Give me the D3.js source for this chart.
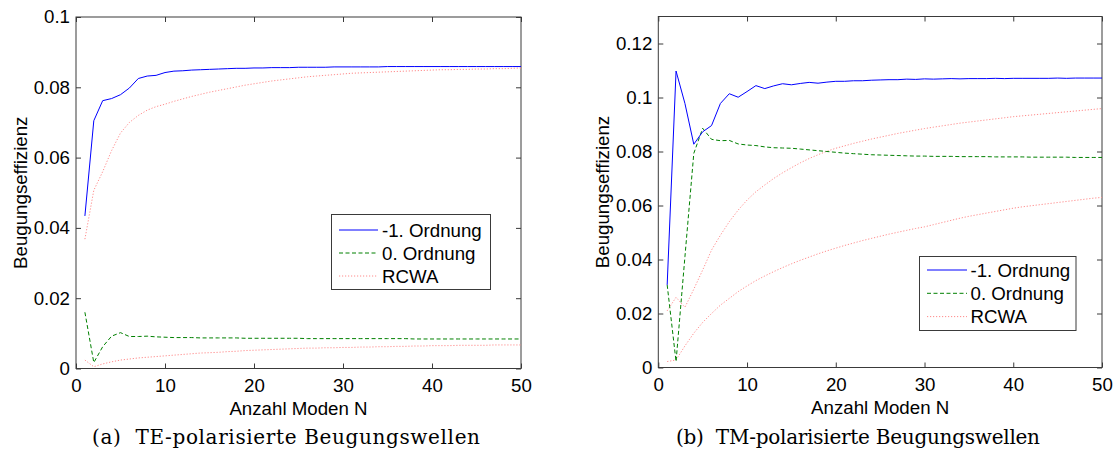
<!DOCTYPE html>
<html>
<head>
<meta charset="utf-8">
<script src="https://cdn.jsdelivr.net/npm/d3@7"></script>
<style>
  html, body { margin: 0; padding: 0; background: #fff; }
  svg { display: block; }
  text { font-family: "Liberation Sans", Arial, sans-serif; fill: #000; }
</style>
</head>
<body>
<svg id="chart" width="1119" height="461"></svg>
<script>
// ---------- Data ----------
const modes = d3.range(1, 51); // N = 1..50
const xTicks = [0, 10, 20, 30, 40, 50];
const yTicksTE = [0, 0.02, 0.04, 0.06, 0.08, 0.1];
const yTickLabelsTE = ["0", "0.02", "0.04", "0.06", "0.08", "0.1"];
const yTicksTM = [0, 0.02, 0.04, 0.06, 0.08, 0.1, 0.12];
const yTickLabelsTM = ["0", "0.02", "0.04", "0.06", "0.08", "0.1", "0.12"];
const legendLabels = ["-1. Ordnung", "0. Ordnung", "RCWA"];
const xLabel = "Anzahl Moden N";
const yLabel = "Beugungseffizienz";
const captions = ["(a)  TE-polarisierte Beugungswellen", "(b)  TM-polarisierte Beugungswellen"];

// TE: -1. Ordnung
const teMinus1 = [0.0434,0.0705,0.0762,0.0768,0.0779,0.0798,0.0825,0.0832,0.0834,0.0842,
  0.0846,0.0847,0.0849,0.0850,0.0851,0.0852,0.0853,0.0854,0.0854,0.0855,
  0.0855,0.0856,0.0856,0.0856,0.0857,0.0857,0.0857,0.0857,0.0858,0.0858,
  0.0858,0.0858,0.0858,0.0858,0.0859,0.0859,0.0859,0.0859,0.0859,0.0859,
  0.0859,0.0859,0.0859,0.0859,0.0859,0.0859,0.0859,0.0859,0.0859,0.0859];
// TE: 0. Ordnung
const teZero = [0.0160,0.0017,0.0062,0.0092,0.0102,0.0091,0.0091,0.0092,0.0090,0.0089,
  0.0088,0.0088,0.0088,0.0087,0.0087,0.0087,0.0087,0.0087,0.0086,0.0086,
  0.0086,0.0086,0.0086,0.0086,0.0086,0.0085,0.0085,0.0085,0.0085,0.0085,
  0.0085,0.0085,0.0085,0.0085,0.0085,0.0085,0.0085,0.0084,0.0084,0.0084,
  0.0084,0.0084,0.0084,0.0084,0.0084,0.0084,0.0084,0.0084,0.0084,0.0084];
// TE: RCWA (-1. order reference)
const teRcwaMinus1 = [0.0368,0.0507,0.0560,0.0620,0.0670,0.0700,0.0720,0.0735,0.0745,0.0752,
  0.0760,0.0767,0.0774,0.0780,0.0786,0.0791,0.0796,0.0801,0.0806,0.0810,
  0.0814,0.0818,0.0821,0.0824,0.0827,0.0830,0.0832,0.0834,0.0836,0.0838,
  0.0840,0.0841,0.0842,0.0843,0.0844,0.0845,0.0846,0.0847,0.0848,0.0849,
  0.0850,0.0850,0.0851,0.0851,0.0852,0.0852,0.0853,0.0853,0.0854,0.0855];
// TE: RCWA (0. order reference)
const teRcwaZero = [0.0024,0.0005,0.0013,0.0019,0.0024,0.0027,0.0030,0.0032,0.0034,0.0036,
  0.0038,0.0040,0.0042,0.0044,0.0045,0.0046,0.0048,0.0049,0.0051,0.0052,
  0.0053,0.0054,0.0055,0.0056,0.0057,0.0058,0.0058,0.0059,0.0059,0.0060,
  0.0060,0.0061,0.0061,0.0062,0.0062,0.0063,0.0063,0.0064,0.0064,0.0065,
  0.0065,0.0065,0.0066,0.0066,0.0066,0.0066,0.0067,0.0067,0.0067,0.0067];

// TM: -1. Ordnung
const tmMinus1 = [0.0306,0.1098,0.0978,0.0827,0.0873,0.0896,0.0978,0.1014,0.1001,0.1022,
  0.1044,0.1033,0.1043,0.1051,0.1047,0.1052,0.1056,0.1053,0.1057,0.1060,
  0.1060,0.1062,0.1062,0.1064,0.1065,0.1066,0.1066,0.1068,0.1067,0.1069,
  0.1068,0.1069,0.1070,0.1069,0.1070,0.1070,0.1070,0.1071,0.1070,0.1071,
  0.1071,0.1071,0.1071,0.1071,0.1072,0.1071,0.1072,0.1072,0.1072,0.1072];
// TM: 0. Ordnung
const tmZero = [0.0306,0.0022,0.0410,0.0793,0.0886,0.0845,0.0840,0.0841,0.0828,0.0824,
  0.0822,0.0817,0.0814,0.0813,0.0812,0.0809,0.0806,0.0803,0.0800,0.0797,
  0.0794,0.0792,0.0790,0.0788,0.0787,0.0786,0.0785,0.0784,0.0783,0.0783,
  0.0782,0.0782,0.0782,0.0781,0.0781,0.0781,0.0781,0.0780,0.0780,0.0780,
  0.0780,0.0779,0.0779,0.0779,0.0779,0.0779,0.0778,0.0778,0.0778,0.0778];
// TM: RCWA (-1. order reference)
const tmRcwaMinus1 = [0.0210,0.0260,0.0223,0.0290,0.0361,0.0435,0.0490,0.0540,0.0583,0.0620,
  0.0651,0.0676,0.0700,0.0721,0.0740,0.0758,0.0774,0.0788,0.0801,0.0812,
  0.0821,0.0830,0.0838,0.0846,0.0853,0.0860,0.0867,0.0873,0.0879,0.0885,
  0.0890,0.0895,0.0900,0.0905,0.0909,0.0913,0.0917,0.0921,0.0925,0.0929,
  0.0932,0.0935,0.0938,0.0941,0.0944,0.0947,0.0950,0.0953,0.0956,0.0959];
// TM: RCWA (0. order reference)
const tmRcwaZero = [0.0022,0.0028,0.0080,0.0127,0.0167,0.0200,0.0231,0.0256,0.0281,0.0302,
  0.0322,0.0339,0.0355,0.0370,0.0384,0.0397,0.0409,0.0421,0.0432,0.0442,
  0.0452,0.0461,0.0470,0.0478,0.0486,0.0494,0.0501,0.0508,0.0515,0.0521,
  0.0529,0.0537,0.0545,0.0553,0.0560,0.0566,0.0572,0.0578,0.0584,0.0590,
  0.0595,0.0599,0.0603,0.0607,0.0611,0.0615,0.0619,0.0623,0.0627,0.0630];

// ---------- Styles ----------
const styles = {
  minus1: { color: "#0000ff", dash: null, width: 1 },
  zero:   { color: "#008000", dash: "4,2.5", width: 1 },
  rcwa:   { color: "#ff8c8c", dash: "1.2,1.8", width: 1 }
};

const svg = d3.select("#chart");
const FONT = 18.7;

function panel(cfg) {
  const x = d3.scaleLinear().domain([0, 50]).range([cfg.left, cfg.right]);
  const y = d3.scaleLinear().domain([0, cfg.ymax]).range([cfg.bottom, cfg.top]);
  const g = svg.append("g");

  // Frame
  g.append("rect")
    .attr("x", cfg.left).attr("y", cfg.top)
    .attr("width", cfg.right - cfg.left).attr("height", cfg.bottom - cfg.top)
    .attr("fill", "#fff").attr("stroke", "#3a3a3a").attr("stroke-width", 1);

  // Axes (ticks pointing inward)
  const axB = d3.axisBottom(x).tickValues(xTicks).tickSize(-5).tickPadding(10).tickFormat(d3.format("d"));
  const axT = d3.axisTop(x).tickValues(xTicks).tickSize(-5).tickFormat("");
  const axL = d3.axisLeft(y).tickValues(cfg.yTicks).tickSize(-5).tickPadding(6)
    .tickFormat((d, i) => cfg.yTickLabels[i]);
  const axR = d3.axisRight(y).tickValues(cfg.yTicks).tickSize(-5).tickFormat("");

  const gb = g.append("g").attr("transform", `translate(0,${cfg.bottom})`).call(axB);
  const gt = g.append("g").attr("transform", `translate(0,${cfg.top})`).call(axT);
  const gl = g.append("g").attr("transform", `translate(${cfg.left},0)`).call(axL);
  const gr = g.append("g").attr("transform", `translate(${cfg.right},0)`).call(axR);
  [gb, gt, gl, gr].forEach(a => {
    a.select(".domain").remove();
    a.selectAll(".tick line").attr("stroke", "#3a3a3a");
    a.selectAll("text").style("font-family", '"Liberation Sans", Arial, sans-serif')
      .style("font-size", FONT + "px").attr("fill", "#000");
  });

  // Lines
  const line = d3.line().x((d, i) => x(modes[i])).y(d => y(d));
  cfg.series.forEach(s => {
    const st = styles[s.style];
    g.append("path").datum(s.values)
      .attr("d", line)
      .attr("fill", "none")
      .attr("stroke", st.color)
      .attr("stroke-width", st.width)
      .attr("stroke-dasharray", st.dash);
  });

  // Axis labels
  g.append("text")
    .attr("x", (cfg.left + cfg.right) / 2).attr("y", cfg.bottom + 46)
    .attr("text-anchor", "middle").style("font-size", FONT + "px")
    .text(xLabel);
  g.append("text")
    .attr("transform", `translate(${cfg.left - 49},${(cfg.top + cfg.bottom) / 2}) rotate(-90)`)
    .attr("text-anchor", "middle").style("font-size", FONT + "px")
    .text(yLabel);

  // Legend
  const L = cfg.legend;
  const lg = g.append("g");
  lg.append("rect").attr("x", L.x).attr("y", L.y).attr("width", L.w).attr("height", L.h)
    .attr("fill", "#fff").attr("stroke", "#3a3a3a").attr("stroke-width", 1);
  const legStyles = ["minus1", "zero", "rcwa"];
  legendLabels.forEach((lab, i) => {
    const st = styles[legStyles[i]];
    const yy = L.y + L.row0 + i * L.dy;
    lg.append("line").attr("x1", L.x + L.l1).attr("x2", L.x + L.l2)
      .attr("y1", yy).attr("y2", yy)
      .attr("stroke", st.color).attr("stroke-width", 1).attr("stroke-dasharray", st.dash);
    lg.append("text").attr("x", L.x + L.tx).attr("y", yy).attr("dy", "0.36em")
      .style("font-size", FONT + "px").text(lab);
  });

  // Caption
  g.append("text")
    .attr("x", cfg.capX).attr("y", 444)
    .attr("text-anchor", "middle")
    .attr("textLength", cfg.capW)
    .attr("lengthAdjust", "spacing")
    .attr("xml:space", "preserve")
    .style("white-space", "pre")
    .style("font-family", '"DejaVu Serif", "Liberation Serif", serif')
    .style("font-size", "20px")
    .text(cfg.caption);
}

panel({
  left: 76, right: 521, top: 17, bottom: 368.5, ymax: 0.1,
  yTicks: yTicksTE, yTickLabels: yTickLabelsTE,
  series: [
    { style: "rcwa", values: teRcwaMinus1 },
    { style: "rcwa", values: teRcwaZero },
    { style: "zero", values: teZero },
    { style: "minus1", values: teMinus1 }
  ],
  legend: { x: 331.5, y: 214.5, w: 159, h: 75, row0: 15.5, dy: 23, l1: 7.5, l2: 46.5, tx: 50.5 },
  caption: captions[0], capX: 286, capW: 388
});

panel({
  left: 658.3, right: 1102, top: 16.5, bottom: 367.5, ymax: 0.13,
  yTicks: yTicksTM, yTickLabels: yTickLabelsTM,
  series: [
    { style: "rcwa", values: tmRcwaMinus1 },
    { style: "rcwa", values: tmRcwaZero },
    { style: "zero", values: tmZero },
    { style: "minus1", values: tmMinus1 }
  ],
  legend: { x: 919.5, y: 256.5, w: 156.5, h: 74, row0: 13.5, dy: 23.3, l1: 7.5, l2: 47.5, tx: 51 },
  caption: captions[1], capX: 858, capW: 364
});
</script>
</body>
</html>
